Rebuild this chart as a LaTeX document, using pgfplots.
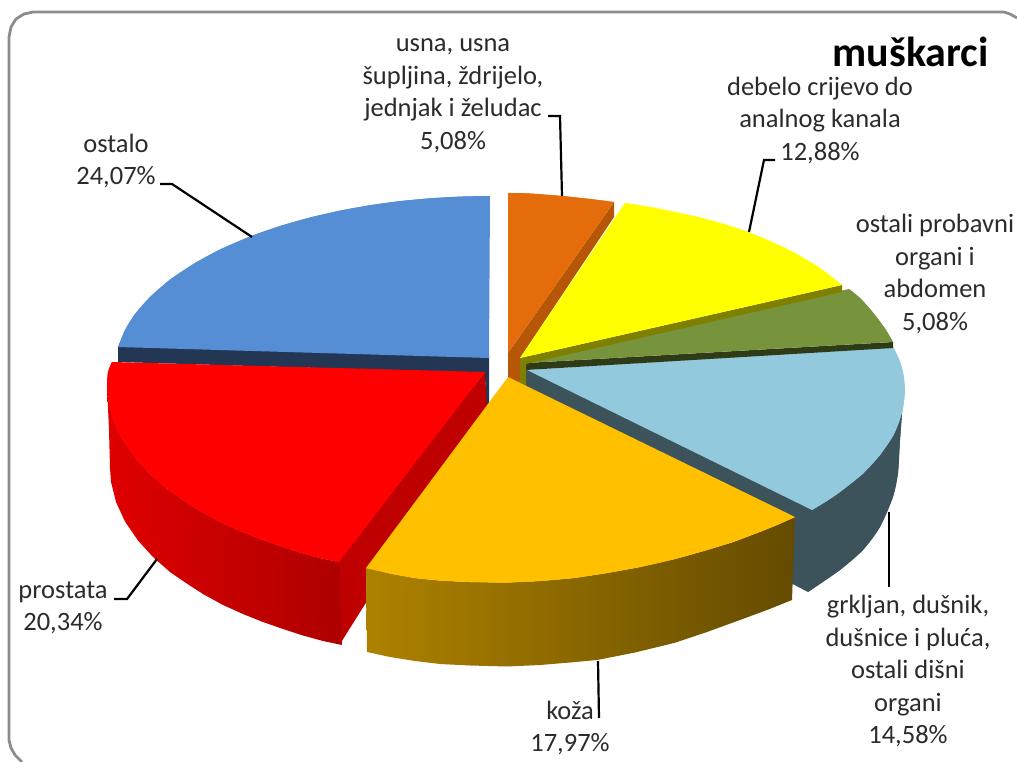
\documentclass[border=0pt]{standalone}
\usepackage{pgfplots}
\pgfplotsset{compat=1.18}
\usepackage{fontspec}
\setmainfont{Carlito}
\definecolor{blueT}{HTML}{558ED5}
\definecolor{blueD}{HTML}{233755}
\definecolor{orangeT}{HTML}{E46C0A}
\definecolor{orangeD}{HTML}{B65708}
\definecolor{yellowT}{HTML}{FFFF00}
\definecolor{yellowD}{HTML}{7F7F00}
\definecolor{greenT}{HTML}{77933C}
\definecolor{greenD}{HTML}{2F3B16}
\definecolor{cyanT}{HTML}{92C9DC}
\definecolor{cyanD}{HTML}{3C535C}
\definecolor{goldT}{HTML}{FFC000}
\definecolor{redT}{HTML}{FF0000}
\definecolor{redW}{HTML}{BF0000}
\definecolor{redL}{HTML}{E00000}
\definecolor{redR}{HTML}{AD0000}
\definecolor{goldL}{HTML}{AE8200}
\definecolor{goldM}{HTML}{6A4F00}
\definecolor{goldR}{HTML}{644B00}
\definecolor{txt}{HTML}{2B2B2B}
\definecolor{frame}{HTML}{8C8C8C}
\newcommand{\lab}{\fontsize{26.5}{32.5}\selectfont}
\begin{document}
\begin{tikzpicture}
\begin{axis}[
  hide axis, scale only axis, width=1017pt, height=762pt,
  xmin=0, xmax=1017, ymin=0, ymax=762, y dir=reverse,
  clip=true]
% frame
\addplot[draw=frame, line width=2.8pt] coordinates {(1017,18)(1010,14)(1004,12)(33,12)(24,14)(16,19)(11,27)(9,37)(9,740)(11,748)(15,755)(22,762)};
% blue wall + top
\addplot[fill=blueD, draw=none] coordinates {(118,346)(489,356)(489,407)(486,407)(485,373)(118,362)};
\addplot[fill=blueT, draw=none] coordinates {(490,196)(460,196.6)(430,198.3)(400,201.1)(370,205.2)(340,210.6)(310,217.5)(280,226)(250,236.5)(220,249.5)(195,263)(170,279.6)(150,297)(135,314)(125,330)(118,347)(489,358)};
\addplot[fill=blueT, draw=none, smooth] coordinates {(490,196)(460,196.6)(430,198.3)(400,201.1)(370,205.2)(340,210.6)(310,217.5)(280,226)(250,236.5)(220,249.5)(195,263)(170,279.6)(150,297)(135,314)(125,330)(118,347)};
% red side
\addplot[draw=none, fill=redW] coordinates {(336,560)(485,372)(487,410)(340,644)};
\addplot[draw=none, left color=redL, right color=redR] coordinates {(339,562)(320,558)(300,552.5)(280,546)(260,539)(240,531)(220,522)(200,511)(183,500)(167,489)(150,474)(135,457.5)(122,438.6)(113,419)(108,399)(107,385)(109,430)(110,468)(111,482)(116,502)(125,521.5)(138,540.5)(153,557)(170,572)(186,583)(203,594)(223,605)(243,614)(263,622)(283,629)(303,635.5)(323,641)(342,645)};
% red top
\addplot[fill=redT, draw=none] coordinates {(485,372)(339,562)(320,558)(300,552.5)(280,546)(260,539)(240,531)(220,522)(200,511)(183,500)(167,489)(150,474)(135,457.5)(122,438.6)(113,419)(108,399)(107,385)(108,372)(112,362)};
\addplot[fill=redT, draw=none, smooth] coordinates {(339,562)(320,558)(300,552.5)(280,546)(260,539)(240,531)(220,522)(200,511)(183,500)(167,489)(150,474)(135,457.5)(122,438.6)(113,419)(108,399)(107,385)(108,372)(112,362)};
% cyan side, wall, top
\addplot[fill=cyanD, draw=none] coordinates {(903,400)(900,440)(898,473)(893,497)(880,527)(863,550)(840,570)(808,592)(785,580)(785,505)(812,505)};
\addplot[fill=cyanD, draw=none, smooth] coordinates {(903,400)(900,440)(898,473)(893,497)(880,527)(863,550)(840,570)(808,592)};
\addplot[fill=cyanD, draw=none] coordinates {(526,369)(812,509)(795,522)(520,386)};
\addplot[fill=cyanT, draw=none] coordinates {(527,370)(893,347)(899,359)(903,372)(905,390)(903,408)(899,422)(893,436)(880,455)(863,473.6)(840,492)(826,501.5)(812,510)};
\addplot[fill=cyanT, draw=none, smooth] coordinates {(893,347)(899,359)(903,372)(905,390)(903,408)(899,422)(893,436)(880,455)(863,473.6)(840,492)(826,501.5)(812,510)};
% green
\addplot[fill=greenD, draw=none] coordinates {(526,363)(893,342)(893,348)(526,370)};
\addplot[fill=greenT, draw=none] coordinates {(526,363)(849,289)(860,298)(870,309)(878,319)(886,330)(893,342)};
\addplot[fill=greenT, draw=none, smooth] coordinates {(849,289)(860,298)(870,309)(878,319)(886,330)(893,342)};
% orange
\addplot[fill=orangeD, draw=none] coordinates {(614,202)(614,217)(520,358)(520,384)(508,379)(508,353)};
\addplot[fill=orangeT, draw=none] coordinates {(508,193)(530,193.5)(562,196)(590,199)(614,202)(508,353)};
\addplot[fill=orangeT, draw=none, smooth] coordinates {(508,193)(530,193.5)(562,196)(590,199)(614,202)};
% yellow
\addplot[fill=yellowD, draw=none] coordinates {(520,358)(842,285)(842,292)(526,364)(526,386)(520,384)};
\addplot[fill=yellowT, draw=none] coordinates {(520,358)(625,203)(650,207)(675,212)(700,217.5)(725,224.4)(748,232)(770,241)(793,252)(820,268)(842,285)};
\addplot[fill=yellowT, draw=none, smooth] coordinates {(625,203)(650,207)(675,212)(700,217.5)(725,224.4)(748,232)(770,241)(793,252)(820,268)(842,285)};
% gold side and top
\addplot[draw=none, left color=goldL, middle color=goldM, right color=goldR] coordinates {(366,568)(390,573.5)(415,578)(440,580.5)(470,582)(507,582.5)(540,581)(574,578)(607,573)(640,567)(675,559)(707,550)(733,542)(757,533)(777,525)(795,517)(792,600)(767,610)(740,620)(707,632)(674,643)(635,652.5)(597,660)(570,662.5)(540,665)(507,666.5)(470,665.5)(440,664)(415,661)(390,657)(367,652)};
\addplot[fill=goldT, draw=none] coordinates {(508,377)(366,568)(390,573.5)(415,578)(440,580.5)(470,582)(507,582.5)(540,581)(574,578)(607,573)(640,567)(675,559)(707,550)(733,542)(757,533)(777,525)(795,517)};
\addplot[fill=goldT, draw=none, smooth] coordinates {(366,568)(390,573.5)(415,578)(440,580.5)(470,582)(507,582.5)(540,581)(574,578)(607,573)(640,567)(675,559)(707,550)(733,542)(757,533)(777,525)(795,517)};
% leaders
\addplot[black, line width=2.2pt] coordinates {(160,184)(172,184)(252,237)};
\addplot[black, line width=2.2pt] coordinates {(548,116)(560,116)(562,196)};
\addplot[black, line width=2.2pt] coordinates {(775,160)(764,160)(749,232)};
\addplot[black, line width=2.2pt] coordinates {(114,599)(127,599)(157,559)};
\addplot[black, line width=2.2pt] coordinates {(598,661)(599,718)};
\addplot[black, line width=2.2pt] coordinates {(889,512)(889,587)};
% labels
\node[txt, align=center, font=\lab] at (axis cs:453,96) {usna, usna\\šupljina, ždrijelo,\\jednjak i želudac\\5,08\%};
\node[txt, align=center, font=\lab] at (axis cs:116,161) {ostalo\\24,07\%};
\node[txt, align=center, font=\lab] at (axis cs:820,120) {debelo crijevo do\\analnog kanala\\12,88\%};
\node[txt, align=center, font=\lab] at (axis cs:935,274) {ostali probavni\\organi i\\abdomen\\5,08\%};
\node[txt, align=center, font=\lab] at (axis cs:908,671) {grkljan, dušnik,\\dušnice i pluća,\\ostali dišni\\organi\\14,58\%};
\node[txt, align=center, font=\lab] at (axis cs:570,728) {koža\\17,97\%};
\node[txt, align=center, font=\lab] at (axis cs:63,608) {prostata\\20,34\%};
\node[black, anchor=east, inner sep=0pt, font=\fontsize{42}{44}\selectfont\bfseries] at (axis cs:989,52) {muškarci};
\end{axis}
\pgfresetboundingbox
\path (0,0) rectangle (1017pt,762pt);
\end{tikzpicture}
\end{document}
